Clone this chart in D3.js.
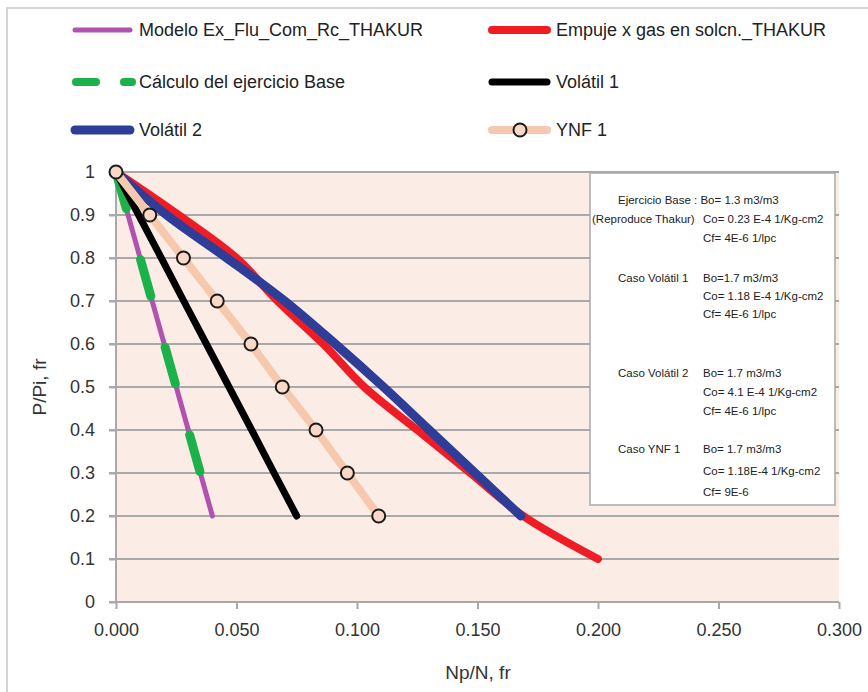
<!DOCTYPE html>
<html>
<head>
<meta charset="utf-8">
<script src="https://cdn.jsdelivr.net/npm/d3@7"></script>
<style>
  html, body { margin: 0; padding: 0; background: #ffffff; }
  svg { display: block; }
  text { font-family: "Liberation Sans Narrow", "Arial Narrow", "Liberation Sans", sans-serif; }
</style>
</head>
<body>
<svg id="chart" width="868" height="692"></svg>
<script>
// ---------- data ----------
const pressure = [1, 0.9, 0.8, 0.7, 0.6, 0.5, 0.4, 0.3, 0.2];
const modeloNp = [0, 0.005, 0.010, 0.015, 0.020, 0.025, 0.030, 0.035, 0.040];
const calculoP = [1, 0.9, 0.8, 0.7, 0.6, 0.5, 0.4, 0.3];
const calculoNp = [0, 0.005, 0.010, 0.015, 0.020, 0.025, 0.030, 0.035];
const volatil1Np = [0, 0.0094, 0.0188, 0.0281, 0.0375, 0.0469, 0.0563, 0.0656, 0.075];
const volatil2Np = [0, 0.021, 0.046, 0.070, 0.091, 0.111, 0.130, 0.149, 0.168];
const ynf1Np = [0, 0.014, 0.028, 0.042, 0.056, 0.069, 0.083, 0.096, 0.109];
const empujeP = [1, 0.9, 0.8, 0.7, 0.6, 0.5, 0.4, 0.3, 0.2, 0.1];
const empujeNp = [0, 0.026, 0.050, 0.067, 0.086, 0.103, 0.125, 0.147, 0.169, 0.200];

const xTicks = [0, 0.05, 0.10, 0.15, 0.20, 0.25, 0.30];
const yTicks = [0, 0.1, 0.2, 0.3, 0.4, 0.5, 0.6, 0.7, 0.8, 0.9, 1];
const xTickLabels = ["0.000", "0.050", "0.100", "0.150", "0.200", "0.250", "0.300"];
const yTickLabels = ["0", "0.1", "0.2", "0.3", "0.4", "0.5", "0.6", "0.7", "0.8", "0.9", "1"];

const seriesNames = ["Modelo Ex_Flu_Com_Rc_THAKUR", "Empuje x gas en solcn._THAKUR",
  "Cálculo del ejercicio Base", "Volátil 1", "Volátil 2", "YNF 1"];

const noteLeft = [
  {row: 0, text: "Ejercicio Base : Bo= 1.3 m3/m3"},
  {row: 1, text: "(Reproduce Thakur)"},
  {row: 3, text: "Caso Volátil 1"},
  {row: 6, text: "Caso Volátil 2"},
  {row: 9, text: "Caso YNF 1"}
];
const noteRight = [
  {row: 1, text: "Co= 0.23 E-4 1/Kg-cm2"},
  {row: 2, text: "Cf= 4E-6 1/lpc"},
  {row: 3, text: "Bo=1.7 m3/m3"},
  {row: 4, text: "Co= 1.18 E-4 1/Kg-cm2"},
  {row: 5, text: "Cf= 4E-6 1/lpc"},
  {row: 6, text: "Bo= 1.7 m3/m3"},
  {row: 7, text: "Co= 4.1 E-4 1/Kg-cm2"},
  {row: 8, text: "Cf= 4E-6 1/lpc"},
  {row: 9, text: "Bo= 1.7 m3/m3"},
  {row: 10, text: "Co= 1.18E-4 1/Kg-cm2"},
  {row: 11, text: "Cf= 9E-6"}
];
const noteRowY = [200, 219, 238, 278, 296, 314, 373, 392, 411, 449, 471, 492];

// ---------- setup ----------
const svg = d3.select("#chart");
const plot = {left: 116, right: 839, top: 172, bottom: 602};

// outer frame
svg.append("rect").attr("x", 7).attr("y", 8).attr("width", 900).attr("height", 700)
  .attr("fill", "#ffffff").attr("stroke", "#d4d4d4").attr("stroke-width", 2);

const x = d3.scaleLinear().domain([0, 0.3]).range([plot.left, plot.right]);
const y = d3.scaleLinear().domain([0, 1]).range([plot.bottom, plot.top]);

// plot background
svg.append("rect").attr("x", plot.left).attr("y", plot.top)
  .attr("width", plot.right - plot.left).attr("height", plot.bottom - plot.top)
  .attr("fill", "#fbece6");

// gridlines
svg.append("g").selectAll("line").data(yTicks.filter(d => d > 0)).join("line")
  .attr("x1", plot.left - 7).attr("x2", plot.right)
  .attr("y1", d => y(d)).attr("y2", d => y(d))
  .attr("stroke", "#a9a9a9").attr("stroke-width", 2);

// axes
const xAxis = d3.axisBottom(x).tickValues(xTicks).tickFormat((d, i) => xTickLabels[i])
  .tickSize(7).tickPadding(14);
const gx = svg.append("g").attr("transform", `translate(0,${plot.bottom})`).call(xAxis);
gx.select(".domain").attr("stroke", "#a9a9a9").attr("stroke-width", 2)
  .attr("d", `M${plot.left - 7},0H${plot.right}`);
gx.selectAll(".tick line").attr("stroke", "#a9a9a9").attr("stroke-width", 2);
gx.selectAll(".tick text").attr("font-size", 18).attr("fill", "#333333")
  .attr("font-family", "'Liberation Sans Narrow', 'Liberation Sans', sans-serif");

const yAxis = d3.axisLeft(y).tickValues(yTicks).tickFormat((d, i) => yTickLabels[i])
  .tickSize(7).tickPadding(14);
const gy = svg.append("g").attr("transform", `translate(${plot.left},0)`).call(yAxis);
gy.select(".domain").attr("stroke", "#a9a9a9").attr("stroke-width", 2)
  .attr("d", `M0,${plot.top}V${plot.bottom}`);
gy.selectAll(".tick line").attr("stroke", "#a9a9a9").attr("stroke-width", 2);
gy.selectAll(".tick text").attr("font-size", 18).attr("fill", "#333333")
  .attr("font-family", "'Liberation Sans Narrow', 'Liberation Sans', sans-serif");

// axis titles
svg.append("text").attr("x", 478).attr("y", 679).attr("text-anchor", "middle")
  .attr("font-size", 19).attr("fill", "#333333").text("Np/N, fr");
svg.append("text").attr("transform", "translate(46,387) rotate(-90)").attr("text-anchor", "middle")
  .attr("font-size", 19).attr("fill", "#333333").text("P/Pi, fr");

// annotation box
svg.append("rect").attr("x", 590).attr("y", 173).attr("width", 245).attr("height", 332)
  .attr("fill", "#ffffff").attr("stroke", "#a9a9a9").attr("stroke-width", 1.5);
const noteG = svg.append("g").attr("font-size", 11.5).attr("fill", "#222222");
noteG.selectAll("text.l").data(noteLeft).join("text").attr("class", "l")
  .attr("x", d => d.row === 1 ? 592 : 618).attr("y", d => noteRowY[d.row] + 4)
  .attr("font-size", 11.5).text(d => d.text);
noteG.selectAll("text.r").data(noteRight).join("text").attr("class", "r")
  .attr("x", 703).attr("y", d => noteRowY[d.row] + 4)
  .attr("font-size", 11.5).text(d => d.text);

// ---------- series ----------
const lineGen = d3.line().x(d => x(d[0])).y(d => y(d[1]));
const smoothGen = d3.line().x(d => x(d[0])).y(d => y(d[1])).curve(d3.curveCatmullRom.alpha(0.5));

const styles = [
  {color: "#b152b0", width: 5, smooth: false},
  {color: "#ee1c25", width: 8, smooth: true},
  {color: "#1db14b", width: 9, dash: "38,53", smooth: false},
  {color: "#000000", width: 7, smooth: false},
  {color: "#2e3d98", width: 9, smooth: true},
  {color: "#f6c9ae", width: 8, smooth: false}
];

const seriesData = [
  modeloNp.map((v, i) => [v, pressure[i]]),
  empujeNp.map((v, i) => [v, empujeP[i]]),
  calculoNp.map((v, i) => [v, calculoP[i]]),
  volatil1Np.map((v, i) => [v, pressure[i]]),
  volatil2Np.map((v, i) => [v, pressure[i]]),
  ynf1Np.map((v, i) => [v, pressure[i]])
];

const gSeries = svg.append("g").attr("fill", "none").attr("stroke-linecap", "round").attr("stroke-linejoin", "round");
seriesData.forEach((data, i) => {
  const s = styles[i];
  gSeries.append("path").datum(data)
    .attr("d", s.smooth ? smoothGen : lineGen)
    .attr("stroke", s.color).attr("stroke-width", s.width)
    .attr("stroke-dasharray", s.dash || null);
});
// YNF 1 markers
svg.append("g").selectAll("circle").data(seriesData[5]).join("circle")
  .attr("cx", d => x(d[0])).attr("cy", d => y(d[1])).attr("r", 6.5)
  .attr("fill", "#f9d9c6").attr("stroke", "#1a1a1a").attr("stroke-width", 2);

// ---------- legend ----------
const legendPos = [
  {x: 73, y: 30}, {x: 490, y: 30},
  {x: 73, y: 82}, {x: 490, y: 82},
  {x: 73, y: 130}, {x: 490, y: 130}
];
const lg = svg.append("g").attr("stroke-linecap", "round");
seriesNames.forEach((name, i) => {
  const p = legendPos[i], s = styles[i];
  if (i === 2) {
    lg.append("line").attr("x1", p.x + 3).attr("x2", p.x + 23).attr("y1", p.y).attr("y2", p.y)
      .attr("stroke", s.color).attr("stroke-width", 8);
    lg.append("line").attr("x1", p.x + 51).attr("x2", p.x + 59).attr("y1", p.y).attr("y2", p.y)
      .attr("stroke", s.color).attr("stroke-width", 8);
  } else {
    lg.append("line").attr("x1", p.x + 2).attr("x2", p.x + 57).attr("y1", p.y).attr("y2", p.y)
      .attr("stroke", s.color).attr("stroke-width", i === 0 ? 5 : s.width);
  }
  if (i === 5) {
    lg.append("circle").attr("cx", p.x + 30).attr("cy", p.y).attr("r", 6.5)
      .attr("fill", "#f9d9c6").attr("stroke", "#1a1a1a").attr("stroke-width", 2);
  }
  lg.append("text").attr("x", p.x + 66).attr("y", p.y + 6).attr("font-size", 18)
    .attr("fill", "#222222").text(name);
});
</script>
</body>
</html>
